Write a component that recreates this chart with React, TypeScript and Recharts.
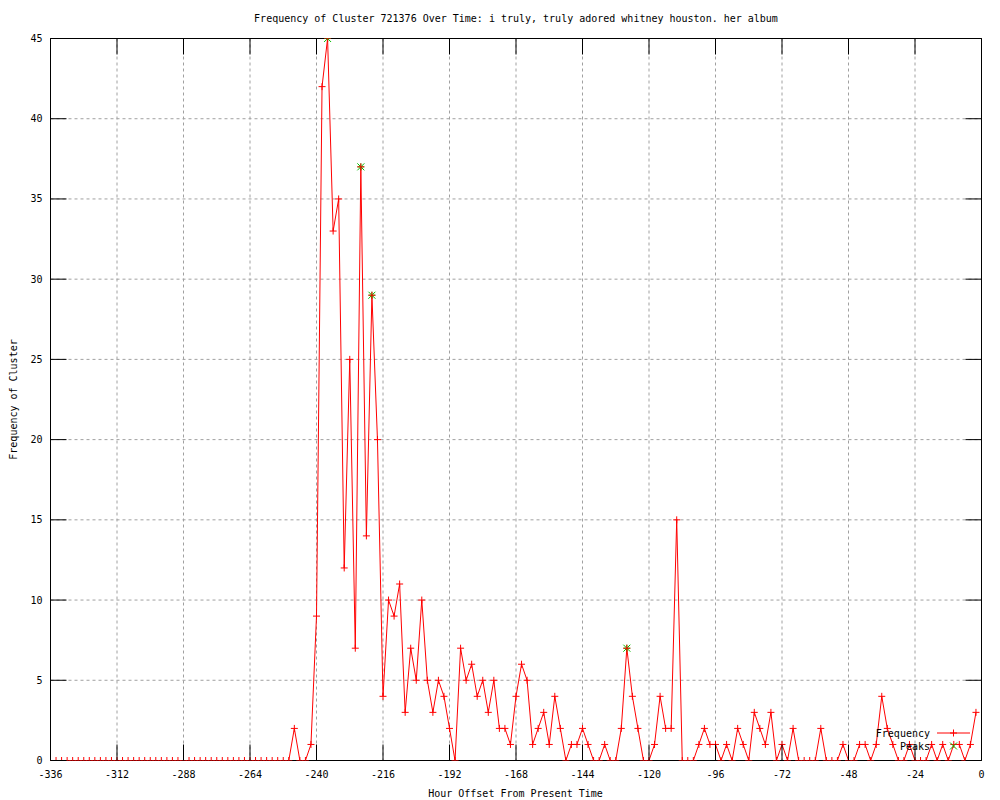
import React from 'react';
import { ComposedChart, Line, Scatter, XAxis, YAxis, CartesianGrid, Legend } from 'recharts';

// hourly bins, two hours wide, starting two weeks back
const startHour = -336;
const binHours = 2;

const frequency = [
  0, 0, 0, 0, 0, 0, 0, 0, 0, 0, 0,
  0, 0, 0, 0, 0, 0, 0, 0, 0, 0, 0,
  0, 0, 0, 0, 0, 0, 0, 0, 0, 0, 0,
  0, 0, 0, 0, 0, 0, 0, 0, 0, 0, 0,
  2, 0, 0, 1, 9, 42, 45, 33, 35, 12, 25, 7, 37, 14, 29, 20, 4, 10, 9, 11, 3, 7, 5, 10, 5, 3, 5, 4, 2, 0,
  7, 5, 6, 4, 5, 3, 5, 2, 2, 1, 4, 6, 5, 1, 2, 3, 1, 4, 2, 0,
  1, 1, 2, 1, 0, 0, 1, 0, 0, 2, 7, 4, 2, 0, 0, 1, 4, 2, 2, 15,
  0, 0, 0, 1, 2, 1, 1, 0, 1, 0, 2, 1, 0, 3, 2, 1, 3, 0, 1, 0,
  2, 0, 0, 0, 0, 2, 0, 0, 0, 1, 0, 0, 1, 1, 0, 1, 4, 2, 1, 0,
  0, 1, 0, 0, 0, 1, 0, 1, 0, 1, 1, 0, 1, 3,
];

const peakHours = [-236, -224, -220, -128];
const peakCounts = [45, 37, 29, 7];

const xTicks = [-336, -312, -288, -264, -240, -216, -192, -168, -144, -120, -96, -72, -48, -24, 0];
const yTicks = [0, 5, 10, 15, 20, 25, 30, 35, 40, 45];

const title = 'Frequency of Cluster 721376 Over Time: i truly, truly adored whitney houston. her album';

const data = frequency.map((v, i) => ({ hour: startHour + i * binHours, freq: v }));
const peakData = peakHours.map((h, i) => ({ hour: h, peak: peakCounts[i] }));

const FONT = '"DejaVu Sans Mono", monospace';
const RED = '#ff0000';
const GREEN = '#00c000';
const TICK = 16;

const plus = (cx: number, cy: number, r = 3.5) =>
  `M${cx - r},${cy}H${cx + r}M${cx},${cy - r}V${cy + r}`;
const cross = (cx: number, cy: number, r = 3.5) =>
  `M${cx - r},${cy - r}L${cx + r},${cy + r}M${cx - r},${cy + r}L${cx + r},${cy - r}`;

const FreqDot = (props: any) => {
  const { cx, cy, index } = props;
  if (cx == null || cy == null) return <g key={index} />;
  return <path key={index} d={plus(cx, cy)} stroke={RED} strokeWidth={1} fill="none" />;
};

const PeakShape = (props: any) => {
  const { cx, cy } = props;
  return <path d={plus(cx, cy) + cross(cx, cy)} stroke={GREEN} strokeWidth={1} fill="none" />;
};

const BottomTick = ({ x, y, payload }: any) => (
  <g>
    <line x1={x} y1={y} x2={x} y2={y - TICK} stroke="#000" />
    <text x={x} y={y + 17} textAnchor="middle" fontFamily={FONT} fontSize={10} fill="#000">
      {payload.value}
    </text>
  </g>
);

const TopTick = ({ x, y }: any) => <line x1={x} y1={y} x2={x} y2={y + TICK} stroke="#000" />;

const LeftTick = ({ x, y, payload }: any) => (
  <g>
    <line x1={x} y1={y} x2={x + TICK} y2={y} stroke="#000" />
    <text x={x - 8} y={y + 3.5} textAnchor="end" fontFamily={FONT} fontSize={10} fill="#000">
      {payload.value}
    </text>
  </g>
);

const RightTick = ({ x, y }: any) => <line x1={x} y1={y} x2={x - TICK} y2={y} stroke="#000" />;

const KeyBox = () => (
  <svg width={120} height={32} style={{ display: 'block' }}>
    <text x={70} y={16.5} textAnchor="end" fontFamily={FONT} fontSize={10} fill="#000">
      Frequency
    </text>
    <line x1={77} y1={13} x2={110} y2={13} stroke={RED} />
    <path d={plus(93.5, 13)} stroke={RED} fill="none" />
    <text x={70} y={29.5} textAnchor="end" fontFamily={FONT} fontSize={10} fill="#000">
      Peaks
    </text>
    <path d={cross(93.5, 26)} stroke={GREEN} fill="none" />
  </svg>
);

export default function App() {
  return (
    <div style={{ position: 'absolute', left: 0, top: 0, width: 1000, height: 800, background: '#fff' }}>
      <ComposedChart
        width={1000}
        height={800}
        data={data}
        margin={{ top: 37.5, right: 17.5, left: 0, bottom: 0 }}
      >
        <CartesianGrid stroke="#a0a0a0" strokeDasharray="3 3" />
        <XAxis
          dataKey="hour"
          type="number"
          domain={[-336, 0]}
          ticks={xTicks}
          interval={0}
          height={39.5}
          tickSize={0}
          tickMargin={0}
          tick={<BottomTick />}
          axisLine={{ stroke: '#000' }}
          allowDataOverflow
        />
        <XAxis
          xAxisId="top"
          orientation="top"
          dataKey="hour"
          type="number"
          domain={[-336, 0]}
          ticks={xTicks}
          interval={0}
          height={1}
          tickSize={0}
          tickMargin={0}
          tick={<TopTick />}
          axisLine={{ stroke: '#000' }}
          allowDataOverflow
        />
        <YAxis
          type="number"
          domain={[0, 45]}
          ticks={yTicks}
          interval={0}
          width={50.5}
          tickSize={0}
          tickMargin={0}
          tick={<LeftTick />}
          axisLine={{ stroke: '#000' }}
          allowDataOverflow
        />
        <YAxis
          yAxisId="right"
          orientation="right"
          type="number"
          domain={[0, 45]}
          ticks={yTicks}
          interval={0}
          width={1}
          tickSize={0}
          tickMargin={0}
          tick={<RightTick />}
          axisLine={{ stroke: '#000' }}
          allowDataOverflow
        />
        <Legend
          layout="vertical"
          align="center"
          verticalAlign="middle"
          wrapperStyle={{ left: 860, top: 720, width: 120, height: 32 }}
          content={() => <KeyBox />}
        />
        {/* invisible series so the mirrored top/right axes get drawn */}
        <Line
          xAxisId="top"
          yAxisId="right"
          dataKey="freq"
          stroke="none"
          dot={false}
          activeDot={false}
          legendType="none"
          isAnimationActive={false}
        />
        <Scatter
          name="Peaks"
          data={peakData}
          dataKey="peak"
          shape={<PeakShape />}
          isAnimationActive={false}
        />
        <Line
          name="Frequency"
          type="linear"
          dataKey="freq"
          stroke={RED}
          strokeWidth={1}
          dot={FreqDot}
          activeDot={false}
          isAnimationActive={false}
        />
        <text x={516} y={21.5} textAnchor="middle" fontFamily={FONT} fontSize={10} fill="#000">
          {title}
        </text>
        <text x={515.5} y={796.5} textAnchor="middle" fontFamily={FONT} fontSize={10} fill="#000">
          Hour Offset From Present Time
        </text>
        <text
          x={16.5}
          y={399.5}
          textAnchor="middle"
          fontFamily={FONT}
          fontSize={10}
          fill="#000"
          transform="rotate(-90 16.5 399.5)"
        >
          Frequency of Cluster
        </text>
      </ComposedChart>
    </div>
  );
}
